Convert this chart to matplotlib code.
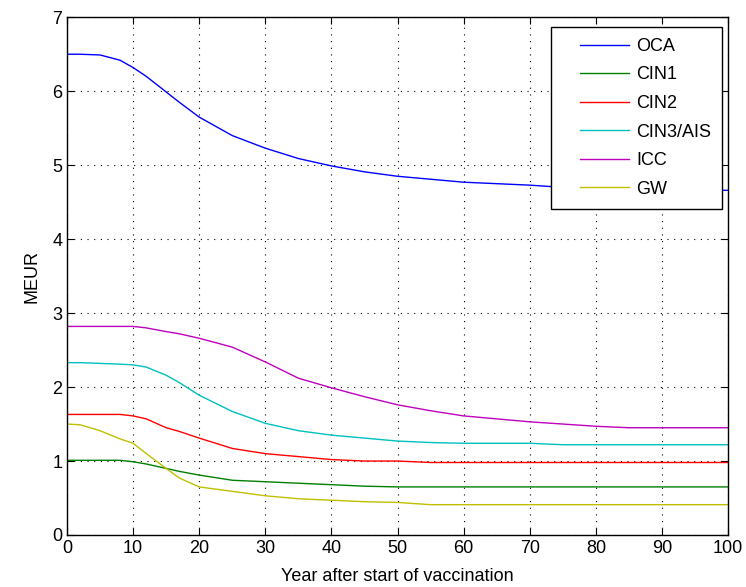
import numpy as np
import matplotlib.pyplot as plt

plt.rcParams['font.family'] = ['Liberation Sans', 'DejaVu Sans']

years = [0, 2, 5, 8, 10, 12, 15, 17, 20, 25, 30, 35, 40, 45, 50,
         55, 60, 65, 70, 75, 80, 85, 90, 95, 100]

oca = [6.50, 6.50, 6.49, 6.42, 6.32, 6.20, 5.99, 5.85, 5.65, 5.40, 5.23, 5.09, 4.99,
       4.91, 4.85, 4.81, 4.77, 4.75, 4.73, 4.70, 4.68, 4.67, 4.66, 4.66, 4.66]
cin1 = [1.01, 1.01, 1.01, 1.01, 0.99, 0.96, 0.90, 0.86, 0.81, 0.74, 0.72, 0.70, 0.68,
        0.66, 0.65, 0.65, 0.65, 0.65, 0.65, 0.65, 0.65, 0.65, 0.65, 0.65, 0.65]
cin2 = [1.63, 1.63, 1.63, 1.63, 1.61, 1.57, 1.45, 1.40, 1.31, 1.17, 1.10, 1.06, 1.02,
        1.00, 1.00, 0.98, 0.98, 0.98, 0.98, 0.98, 0.98, 0.98, 0.98, 0.98, 0.98]
cin3 = [2.33, 2.33, 2.32, 2.31, 2.30, 2.27, 2.16, 2.06, 1.89, 1.67, 1.51, 1.41, 1.35,
        1.31, 1.27, 1.25, 1.24, 1.24, 1.24, 1.22, 1.22, 1.22, 1.22, 1.22, 1.22]
icc = [2.82, 2.82, 2.82, 2.82, 2.82, 2.80, 2.75, 2.72, 2.66, 2.54, 2.34, 2.12, 1.99,
       1.87, 1.76, 1.68, 1.61, 1.57, 1.53, 1.50, 1.47, 1.45, 1.45, 1.45, 1.45]
gw = [1.50, 1.49, 1.41, 1.30, 1.24, 1.10, 0.90, 0.77, 0.65, 0.59, 0.53, 0.49, 0.47,
      0.45, 0.44, 0.41, 0.41, 0.41, 0.41, 0.41, 0.41, 0.41, 0.41, 0.41, 0.41]

labels = ['OCA', 'CIN1', 'CIN2', 'CIN3/AIS', 'ICC', 'GW']
colors = ['#0000ff', '#008000', '#ff0000', '#00bfbf', '#bf00bf', '#bfbf00']

fig = plt.figure(figsize=(7.46, 5.87), dpi=100)
ax = fig.add_axes([0.0898, 0.0886, 0.8862, 0.882])

for ys, lab, c in zip([oca, cin1, cin2, cin3, icc, gw], labels, colors):
    ax.plot(years, ys, color=c, lw=1.0, label=lab)

ax.set_xlim(0, 100)
ax.set_ylim(0, 7)
ax.set_xticks(np.arange(0, 101, 10))
ax.set_yticks(np.arange(0, 8, 1))
ax.grid(True, color='black', linestyle=(0, (1, 5)), linewidth=0.8)
ax.tick_params(direction='in', top=True, right=True, length=5, labelsize=13)
for s in ax.spines.values():
    s.set_linewidth(1.0)

ax.set_xlabel('Year after start of vaccination', fontsize=13, labelpad=8)
ax.set_ylabel('MEUR', fontsize=13, labelpad=8)

leg = ax.legend(loc='upper right', bbox_to_anchor=(0.991, 0.981), borderaxespad=0,
                fontsize=13, fancybox=False, framealpha=1, edgecolor='black',
                handlelength=3.7, handletextpad=0.4, borderpad=0.6,
                labelspacing=0.64)
leg.get_frame().set_linewidth(1.0)
# matlab legends leave a gap before the sample line
for l in leg.get_lines():
    xd = np.asarray(l.get_xdata(), dtype=float)
    x0, x1 = xd.min(), xd.max()
    l.set_xdata(np.linspace(x0 + (x1 - x0) * 0.27, x1, len(xd)))

fig.savefig('out.png', dpi=100)
